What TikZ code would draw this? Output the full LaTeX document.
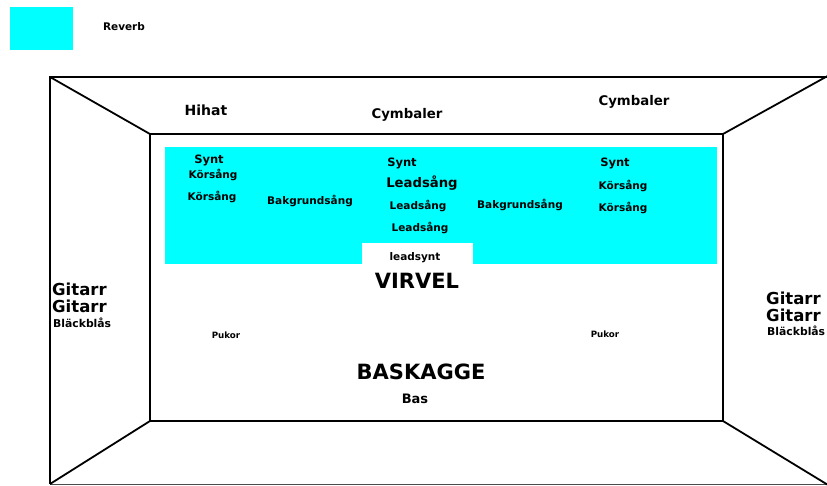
\documentclass[tikz,border=0pt]{standalone}
\usepackage{fontspec}
\setmainfont{DejaVu Sans}
\definecolor{reverb}{RGB}{0,255,255}
\newcommand{\sz}[1]{\fontsize{#1}{#1}\selectfont}
\begin{document}
\begin{tikzpicture}[x=1pt,y=-1pt,
  wall/.style={line width=1.8pt, line join=miter},
  lbl/.style={inner sep=0pt, text=black},
  tiny/.style={lbl, font=\sz{8.7}\bfseries},
  small/.style={lbl, font=\sz{10.5}\bfseries},
  big/.style={lbl, font=\sz{21}\bfseries},
  gitarr/.style={lbl, anchor=west, font=\sz{16.5}\bfseries},
  blas/.style={lbl, anchor=west, font=\sz{10.8}\bfseries}]
\useasboundingbox (0,0) rectangle (827,485);
\fill[white] (0,0) rectangle (827,485);

% legend
\fill[reverb] (10,7) rectangle (73,50);
\node[lbl, font=\sz{10.5}\bfseries] (legend) at (124,27) {Reverb};

% reverb area with the white notch for the lead synth
\fill[reverb] (165,147) rectangle (717,264);
\fill[white] (362,243) rectangle (473,265);

% room walls in perspective
\begin{scope}
\clip (0,0) rectangle (827,485);
\coordinate (o1) at (50,77);
\coordinate (o2) at (840,77);
\coordinate (o3) at (840,484);
\coordinate (o4) at (50,484);
\coordinate (i1) at (150,134);
\coordinate (i2) at (723,134);
\coordinate (i3) at (723,421);
\coordinate (i4) at (150,421);
\coordinate (c2) at (833,73);
\coordinate (c3) at (833,488);
\draw[wall] (o2) -- (o1) -- (o4);
\draw[line width=1pt, black!70] (o4) -- (o3);
\draw[wall] (i1) rectangle (i3);
\draw[wall] (o1) -- (i1);
\draw[wall] (i2) -- (c2);
\draw[wall] (i3) -- (c3);
\draw[wall] (i4) -- (o4);
\end{scope}

% back wall
\node[lbl, font=\sz{14}\bfseries] (hihat) at (206,110) {Hihat};
\node[lbl, font=\sz{13.3}\bfseries] (cymA) at (407,115) {Cymbaler};
\node[lbl, font=\sz{13.3}\bfseries] (cymB) at (634,102) {Cymbaler};

% reverb group, left
\node[lbl, font=\sz{11.5}\bfseries] (syntL) at (209,160) {Synt};
\node[small] (korL1) at (213,175) {Körsång};
\node[small] (korL2) at (212,197) {Körsång};
\node[small] (bakL) at (310,201) {Bakgrundsång};

% reverb group, centre
\node[lbl, font=\sz{11.5}\bfseries] (syntC) at (402,163) {Synt};
\node[lbl, font=\sz{13.2}\bfseries] (leadA) at (422,183) {Leadsång};
\node[small] (leadB) at (418,206) {Leadsång};
\node[small] (leadC) at (420,228) {Leadsång};
\node[small] (bakR) at (520,205) {Bakgrundsång};

% reverb group, right
\node[lbl, font=\sz{11.5}\bfseries] (syntR) at (615,163) {Synt};
\node[small] (korR1) at (623,186) {Körsång};
\node[small] (korR2) at (623,208) {Körsång};

% centre stage
\node[small] (lsynt) at (415,258) {leadsynt};
\node[big] (virvel) at (417,281) {VIRVEL};
\node[tiny] (pukL) at (226,335) {Pukor};
\node[tiny] (pukR) at (605,334) {Pukor};
\node[big] (bask) at (421,372) {BASKAGGE};
\node[lbl, font=\sz{13}\bfseries] (bas) at (415,399) {Bas};

% side walls
\node[gitarr] (gitL1) at (52,289) {Gitarr};
\node[gitarr] (gitL2) at (52,306) {Gitarr};
\node[blas] (blaL) at (53,323) {Bläckblås};
\node[gitarr] (gitR1) at (766,298) {Gitarr};
\node[gitarr] (gitR2) at (766,315) {Gitarr};
\node[blas] (blaR) at (767,331) {Bläckblås};
\end{tikzpicture}
\end{document}
